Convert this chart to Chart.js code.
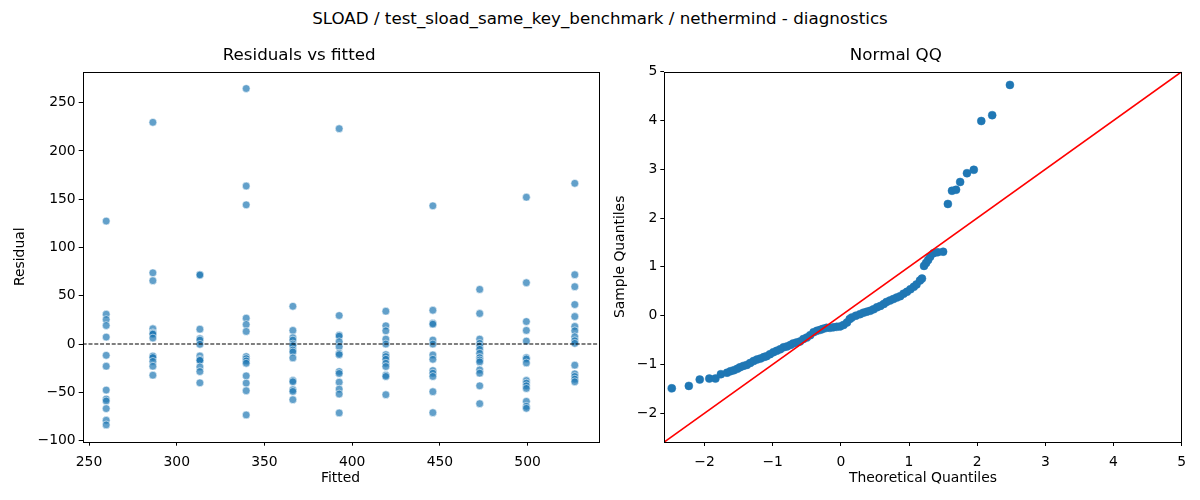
<!DOCTYPE html>
<html>
<head>
<meta charset="utf-8">
<script src="https://cdn.jsdelivr.net/npm/chart.js@4.4.1/dist/chart.umd.min.js"></script>
<style>
  html, body { margin: 0; padding: 0; background: #fff; }
  body { width: 1200px; height: 500px; position: relative; overflow: hidden; font-family: "DejaVu Sans", sans-serif; }
  #suptitle { position: absolute; left: 0; top: 8px; width: 1200px; text-align: center; font-size: 16.7px; line-height: 20px; color: #000; }
  canvas { position: absolute; }
  #residChart { left: 0; top: 40px; }
  #qqChart { left: 610px; top: 40px; }
</style>
</head>
<body>
<div id="suptitle">SLOAD / test_sload_same_key_benchmark / nethermind - diagnostics</div>
<canvas id="residChart" width="610" height="460"></canvas>
<canvas id="qqChart" width="590" height="460"></canvas>
<script>
// ## DATA ##

// fitted value of each group (x position of each column)
const fittedLevels = [259.8, 286.4, 313.2, 339.6, 366.2, 392.6, 419.2, 446.0, 472.7, 499.3, 526.9];

// residuals read per fitted group
const residuals260 = [127.4, 30.9, 25.4, 19.2, 7.2, -11.7, -23.0, -47.7, -57.0, -59.0, -66.9, -79.0, -83.8];
const residuals286 = [229.7, 73.8, 65.6, 15.8, 11.7, 11.0, 10.3, 6.2, -13.0, -12.5, -14.0, -18.0, -23.0, -32.3];
const residuals313 = [72.0, 71.5, 15.4, 5.5, 4.1, -0.3, -12.4, -15.8, -17.2, -16.8, -23.7, -28.5, -40.2];
const residuals340 = [264.7, 163.7, 144.2, 26.8, 20.2, 13.0, -13.0, -15.1, -17.5, -19.9, -33.0, -40.5, -48.4, -73.5];
const residuals366 = [39.1, 14.1, 6.5, 4.1, 0.0, -1.7, -6.2, -8.2, -14.4, -37.8, -39.1, -47.4, -49.1, -57.7];
const residuals393 = [223.1, 29.5, 9.3, 8.2, 2.4, -2.7, -9.6, -11.0, -28.5, -30.5, -39.5, -46.7, -51.8, -71.4];
const residuals419 = [34.0, 18.9, 13.7, 5.1, 0.0, -11.0, -13.0, -15.8, -19.9, -23.3, -32.3, -33.6, -52.5];
const residuals446 = [143.2, 35.0, 21.6, 20.6, 4.1, 0.0, -11.3, -15.8, -27.5, -30.2, -33.6, -49.4, -71.1];
const residuals473 = [56.6, 31.6, 5.1, 0.7, -2.1, -5.5, -9.6, -14.1, -16.5, -18.5, -26.8, -30.2, -43.3, -61.8];
const residuals499 = [152.1, 63.5, 23.3, 14.1, 3.1, -14.1, -15.4, -19.6, -37.8, -40.5, -43.3, -46.0, -59.4, -64.5, -66.6];
const residuals527 = [166.5, 71.8, 59.4, 40.9, 28.5, 18.2, 13.7, 7.5, 3.4, 0.7, -21.9, -30.9, -33.6, -36.4, -39.1];

const residualGroups = [residuals260, residuals286, residuals313, residuals340, residuals366,
  residuals393, residuals419, residuals446, residuals473, residuals499, residuals527];

// normal QQ points
const qqTheoretical = [
  -2.48, -2.23, -2.07, -1.93, -1.84, -1.76, -1.67, -1.62, -1.57, -1.52, -1.48, -1.43, -1.38, -1.33,
  -1.28, -1.23, -1.18, -1.13, -1.09, -1.04, -0.99, -0.94, -0.89, -0.84, -0.79, -0.74, -0.70, -0.65,
  -0.60, -0.55, -0.50, -0.45, -0.40, -0.35, -0.30, -0.26, -0.21, -0.16, -0.11, -0.06, -0.01, 0.04,
  0.09, 0.13, 0.16, 0.22, 0.28, 0.33, 0.38, 0.43, 0.48, 0.53, 0.58, 0.63, 0.67, 0.72, 0.77, 0.82,
  0.87, 0.92, 0.97, 1.02, 1.07, 1.11, 1.16, 1.19, 1.22, 1.25, 1.28, 1.31, 1.36, 1.42, 1.50,
  1.57, 1.63, 1.69, 1.75, 1.85, 1.95, 2.06, 2.22, 2.48
];
const qqSample = [
  -1.49, -1.44, -1.31, -1.29, -1.29, -1.20, -1.17, -1.14, -1.12, -1.09, -1.06, -1.03, -1.01, -0.97,
  -0.93, -0.90, -0.88, -0.85, -0.83, -0.79, -0.75, -0.72, -0.69, -0.65, -0.63, -0.60, -0.57, -0.55,
  -0.53, -0.48, -0.45, -0.40, -0.34, -0.31, -0.29, -0.27, -0.25, -0.25, -0.24, -0.23, -0.22, -0.19,
  -0.14, -0.07, -0.04, 0.00, 0.03, 0.06, 0.08, 0.10, 0.13, 0.17, 0.20, 0.24, 0.28, 0.31, 0.34, 0.37,
  0.40, 0.45, 0.49, 0.54, 0.59, 0.64, 0.72, 0.76, 1.02, 1.08, 1.14, 1.21, 1.28, 1.30, 1.31,
  2.29, 2.56, 2.58, 2.74, 2.92, 2.99, 3.99, 4.11, 4.73
];

// axes
const residXTicks = [250, 300, 350, 400, 450, 500];
const residYTicks = [-100, -50, 0, 50, 100, 150, 200, 250];
const residXRange = [246.4, 540.3];
const residYRange = [-101.2, 282.1];
const qqTicks = [-2, -1, 0, 1, 2, 3, 4, 5];
const qqRange = [-2.59, 5];

// ## HELPERS ##

const FONT = "DejaVu Sans";
const tickFont = { family: FONT, size: 13.9 };
const labelFont = { family: FONT, size: 13.9 };
const titleFont = { family: FONT, size: 16.7, weight: "normal" };

// matplotlib style frame around the plot area
const framePlugin = {
  id: "frame",
  afterDraw(chart) {
    const { ctx, chartArea } = chart;
    ctx.save();
    ctx.strokeStyle = "#000";
    ctx.lineWidth = 1;
    ctx.strokeRect(Math.round(chartArea.left) + 0.5, Math.round(chartArea.top) + 0.5,
      Math.round(chartArea.right - chartArea.left), Math.round(chartArea.bottom - chartArea.top));
    ctx.restore();
  },
};

function minusSign(v) {
  return String(v).replace("-", "\u2212");
}

function makeAxis(ticks, range, title, fitSize, titlePadding, tickPadding) {
  return {
    type: "linear",
    min: range[0],
    max: range[1],
    afterBuildTicks: (scale) => {
      scale.ticks = ticks.map((v) => ({ value: v }));
    },
    afterFit: (scale) => {
      if (scale.isHorizontal()) scale.height = fitSize;
      else scale.width = fitSize;
    },
    ticks: {
      color: "#000",
      font: tickFont,
      padding: tickPadding,
      autoSkip: false,
      maxRotation: 0,
      callback: (v) => minusSign(v),
    },
    grid: {
      display: true,
      drawOnChartArea: false,
      drawTicks: true,
      tickLength: 4,
      color: "#000",
      lineWidth: 1,
    },
    border: { display: false },
    title: {
      display: true,
      text: title,
      color: "#000",
      font: labelFont,
      padding: titlePadding,
    },
  };
}

function baseOptions(titleText, xAxis, yAxis, padRight) {
  return {
    responsive: false,
    animation: false,
    devicePixelRatio: 1,
    layout: { padding: { left: 0, right: padRight, top: 0, bottom: 0 } },
    plugins: {
      legend: { display: false },
      tooltip: { enabled: false },
      title: {
        display: true,
        text: titleText,
        color: "#000",
        font: titleFont,
        padding: { top: 6, bottom: 5.7 },
      },
    },
    scales: { x: xAxis, y: yAxis },
  };
}

// ## RESIDUALS VS FITTED ##

function createResidualChart() {
  const points = [];
  residualGroups.forEach((group, i) => {
    group.forEach((r) => points.push({ x: fittedLevels[i], y: r }));
  });

  const ctx = document.getElementById("residChart").getContext("2d");
  new Chart(ctx, {
    type: "scatter",
    data: {
      datasets: [
        {
          type: "line",
          data: [
            { x: residXRange[0], y: 0 },
            { x: residXRange[1], y: 0 },
          ],
          borderColor: "#000",
          borderWidth: 1.1,
          borderDash: [4, 1.8],
          pointRadius: 0,
          fill: false,
        },
        {
          data: points,
          backgroundColor: "rgba(31,119,180,0.7)",
          borderColor: "rgba(255,255,255,0.7)",
          borderWidth: 0.8,
          pointRadius: 3.9,
        },
      ],
    },
    options: baseOptions(
      "Residuals vs fitted",
      makeAxis(residXTicks, residXRange, "Fitted", 58.3, { top: 0, bottom: 13.7 }, 8),
      makeAxis(residYTicks, residYRange, "Residual", 82.7, { top: 11.7, bottom: 0 }, 3),
      11.7
    ),
    plugins: [framePlugin],
  });
}

// ## NORMAL QQ ##

function createQQChart() {
  const points = qqTheoretical.map((t, i) => ({ x: t, y: qqSample[i] }));

  const ctx = document.getElementById("qqChart").getContext("2d");
  new Chart(ctx, {
    type: "scatter",
    data: {
      datasets: [
        {
          type: "line",
          data: [
            { x: qqRange[0], y: qqRange[0] },
            { x: qqRange[1], y: qqRange[1] },
          ],
          borderColor: "#ff0000",
          borderWidth: 1.6,
          pointRadius: 0,
          fill: false,
        },
        {
          data: points,
          backgroundColor: "#1f77b4",
          borderColor: "#1f77b4",
          borderWidth: 0.5,
          pointRadius: 4,
        },
      ],
    },
    options: baseOptions(
      "Normal QQ",
      makeAxis(qqTicks, qqRange, "Theoretical Quantiles", 58, { top: 0, bottom: 13.7 }, 8),
      makeAxis(qqTicks, qqRange, "Sample Quantiles", 54.3, { top: 1.7, bottom: 0 }, 3),
      18.3
    ),
    plugins: [framePlugin],
  });
}

createResidualChart();
createQQChart();
</script>
</body>
</html>
